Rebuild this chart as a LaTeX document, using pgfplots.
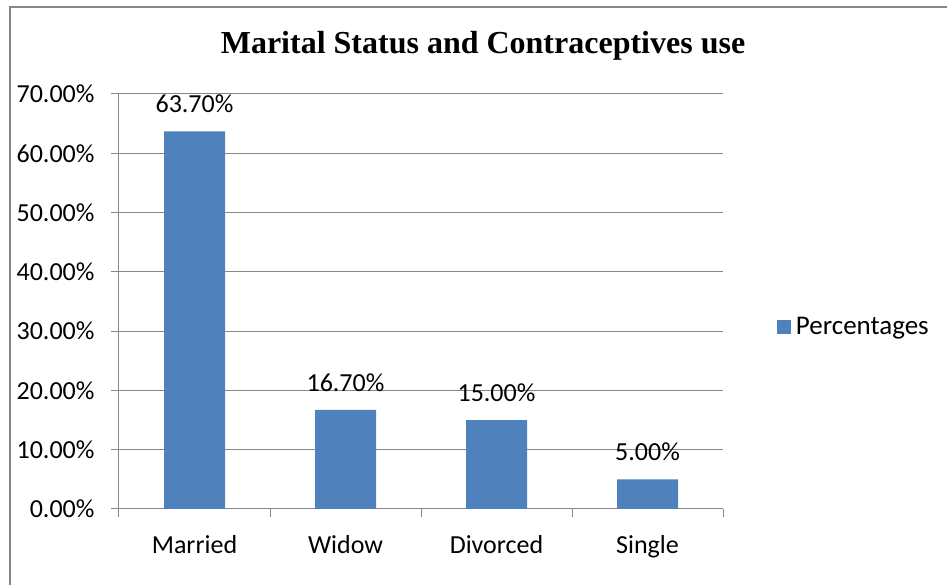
\documentclass[border=0pt]{standalone}
\usepackage{pgfplots}
\pgfplotsset{compat=1.18}
\usepackage{fontspec}
\setmainfont{Carlito}
\newfontfamily\titlefont{Liberation Serif}
\definecolor{barblue}{HTML}{4F81BD}
\definecolor{gridgray}{HTML}{868686}
\pgfplotstableread{
x val
0 63.7
1 16.7
2 15.0
3 5.0
}\datatable
\begin{document}
\begin{tikzpicture}[x=1pt,y=1pt]
\path[use as bounding box] (0,0) rectangle (947,585);
\draw[gridgray, line width=1.5pt] (10,0) -- (10,578) -- (947,578);
\node[font=\titlefont\bfseries\fontsize{32}{36}\selectfont] at (483,539) {Marital Status and Contraceptives use};
\begin{axis}[
  at={(119pt,76pt)}, anchor=south west,
  scale only axis, width=604pt, height=415pt,
  xmin=-0.5, xmax=3.5, ymin=0, ymax=70,
  /pgf/number format/assume math mode=true,
  font=\fontsize{26}{30}\selectfont,
  axis x line*=bottom, axis y line*=left,
  axis line style={gridgray, line width=1pt},
  ymajorgrids, grid style={gridgray, line width=1pt},
  tick align=outside, major tick length=8pt,
  tick style={gridgray, line width=1pt},
  ytick={0,10,...,70},
  yticklabel={\pgfmathprintnumber[fixed,zerofill,precision=2]{\tick}\%},
  yticklabel style={xshift=-13pt},
  xtick={-0.5,0.5,1.5,2.5,3.5},
  xticklabels={,,,,},
  extra x ticks={0,1,2,3},
  extra x tick labels={Married,Widow,Divorced,Single},
  extra x tick style={tick style={draw=none}, grid=none, xticklabel style={yshift=-15pt, font=\fontsize{26}{30}\selectfont}},
  ybar, bar width=61pt,
  nodes near coords={\pgfmathprintnumber[fixed,zerofill,precision=2]{\pgfplotspointmeta}\%},
  nodes near coords style={font=\fontsize{26}{30}\selectfont, text=black, yshift=15pt},
  legend style={at={(1.089,0.4386)}, anchor=west, draw=none, fill=none, inner sep=0pt,
    font=\fontsize{27}{31}\selectfont},
  legend image code/.code={\fill[barblue] (0pt,-7pt) rectangle (14pt,7pt);},
]
\addplot[fill=barblue, draw=none] table[x=x, y=val] {\datatable};
\addlegendentry{\hspace{3pt}Percentages}
\end{axis}
\end{tikzpicture}
\end{document}
